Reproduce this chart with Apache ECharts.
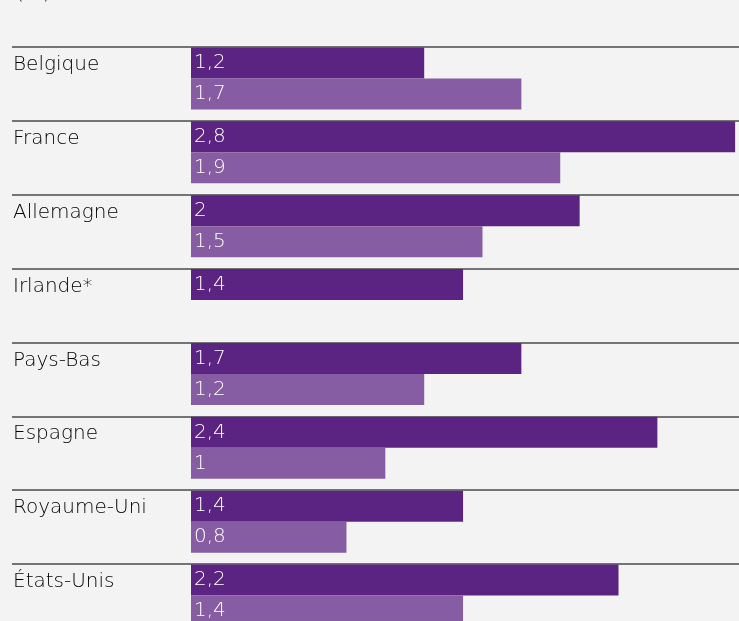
<!DOCTYPE html>
<html>
<head>
<meta charset="utf-8">
<script src="https://cdn.jsdelivr.net/npm/echarts@6/dist/echarts.min.js"></script>
<style>
  html, body { margin: 0; padding: 0; background: #f3f3f3; }
  #chart { width: 739px; height: 621px; }
</style>
</head>
<body>
<div id="chart"></div>
<script>
// Countries, top to bottom
const countries = ['Belgique', 'France', 'Allemagne', 'Irlande*', 'Pays-Bas', 'Espagne', 'Royaume-Uni', 'États-Unis'];
// First (dark) bar of each country, in %
const seriesDark = [1.2, 2.8, 2, 1.4, 1.7, 2.4, 1.4, 2.2];
// Second (light) bar of each country, in %; Irlande has none
const seriesLight = [1.7, 1.9, 1.5, null, 1.2, 1, 0.8, 1.4];
const unitLabel = '(%)';

const FONT = '"DejaVu Sans", sans-serif';
const WEIGHT = 200;
const H = 621;
const ROW = 73.86;               // height of one country block
const SEP_TOP = 47;              // first separator line
const BAR_W = 31;
const BAR_SHIFT = (ROW - 2 * BAR_W) / 2 - 0.5;
const BLOCK = ROW * countries.length;

const fmt = v => String(v).replace('.', ',');

const chart = echarts.init(document.getElementById('chart'), null, { renderer: 'canvas' });

const valueLabel = {
  show: true,
  position: 'insideLeft',
  distance: 3,
  color: '#ffffff',
  fontFamily: FONT,
  fontWeight: WEIGHT,
  fontSize: 20,
  formatter: p => fmt(p.value)
};

chart.setOption({
  backgroundColor: '#f3f3f3',
  animation: false,
  title: {
    text: unitLabel,
    left: 11,
    top: -21,
    textStyle: { fontFamily: FONT, fontWeight: WEIGHT, fontSize: 20, color: '#000' }
  },
  grid: [
    // bars
    {
      left: 191, right: 0, top: SEP_TOP - BAR_SHIFT, height: BLOCK,
      outerBoundsMode: 'none', containLabel: false
    },
    // separator lines and country names
    {
      left: 12, right: 0, top: SEP_TOP, height: BLOCK,
      outerBoundsMode: 'none', containLabel: false
    }
  ],
  xAxis: [
    { gridIndex: 0, type: 'value', min: 0, max: 2.82, show: false },
    { gridIndex: 1, type: 'value', min: 0, max: 1, show: false }
  ],
  yAxis: [
    {
      gridIndex: 0, type: 'category', data: countries, inverse: true,
      axisLine: { show: false }, axisTick: { show: false }, axisLabel: { show: false },
      splitLine: { show: false }
    },
    {
      gridIndex: 1, type: 'category', data: countries, inverse: true,
      axisLine: { show: false }, axisTick: { show: false },
      splitLine: { show: true, interval: 0, lineStyle: { color: '#4a4a4a', width: 1.5 } },
      axisLabel: {
        inside: true, margin: 1, align: 'left', verticalAlign: 'middle',
        formatter: name => '{n|' + name + '}\n{s| }',
        rich: {
          n: { fontFamily: FONT, fontWeight: WEIGHT, fontSize: 20, lineHeight: 22, color: '#000' },
          s: { fontSize: 10, lineHeight: 38 }
        }
      }
    }
  ],
  series: [
    {
      type: 'bar', xAxisIndex: 0, yAxisIndex: 0,
      data: seriesDark, barWidth: BAR_W, barGap: '0%',
      itemStyle: { color: '#5c2482' },
      label: valueLabel
    },
    {
      type: 'bar', xAxisIndex: 0, yAxisIndex: 0,
      data: seriesLight, barWidth: BAR_W, barGap: '0%',
      itemStyle: { color: '#865ca2' },
      label: valueLabel
    }
  ]
});
</script>
</body>
</html>
